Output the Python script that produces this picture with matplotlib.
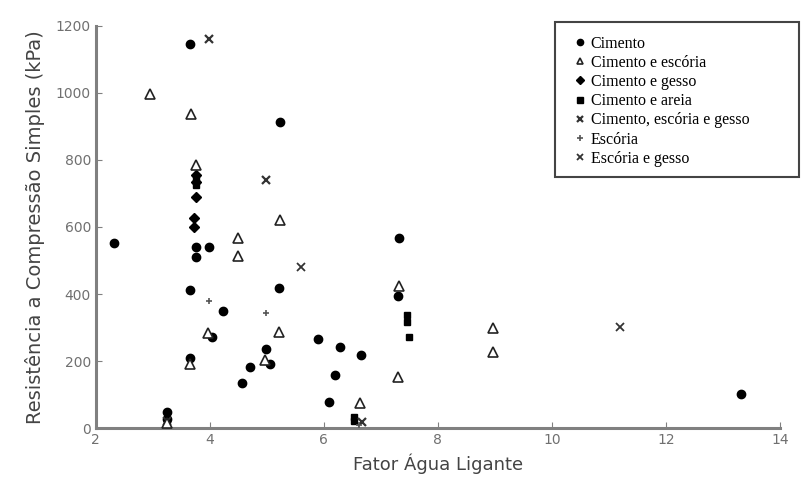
import numpy as np
import matplotlib.pyplot as plt
from matplotlib.patches import Rectangle

# dados (fator agua/ligante, resistencia kPa)
cim_x = [2.32, 3.65, 5.23, 3.75, 3.75, 3.98, 3.65, 4.23, 5.21, 4.04, 3.65, 4.98,
         5.05, 4.70, 4.56, 5.90, 6.28, 6.65, 6.20, 6.09, 3.25, 3.25, 7.32, 7.30, 13.32]
cim_y = [552, 1146, 913, 540, 510, 540, 412, 349, 418, 272, 209, 236,
         191, 182, 134, 265, 243, 218, 158, 78, 48, 27, 567, 395, 101]

esc_x = [2.95, 3.67, 3.75, 5.23, 4.50, 4.50, 3.96, 5.21, 3.66, 4.97, 6.63, 7.31,
         7.30, 8.97, 8.97, 3.25]
esc_y = [997, 937, 785, 621, 567, 513, 283, 287, 191, 203, 74, 424,
         153, 299, 227, 15]

gesso_x = [3.75, 3.75, 3.75, 3.72, 3.72]
gesso_y = [755, 734, 690, 627, 600]

areia_x = [3.75, 3.75, 7.46, 7.46, 7.49, 6.52, 6.52, 3.25]
areia_y = [745, 725, 337, 317, 272, 33, 21, 25]

ceg_x = [3.98, 4.98, 6.67]
ceg_y = [1161, 740, 18]

escoria_x = [3.98, 4.98, 6.62]
escoria_y = [379, 343, 8]

eg_x = [5.60, 11.20, 3.25]
eg_y = [481, 302, 20]

fig = plt.figure(figsize=(8.05, 4.86), dpi=100)
ax = fig.add_axes([0.119, 0.119, 0.850, 0.828])

ax.plot(cim_x, cim_y, 'o', color='black', ms=6, label='Cimento', zorder=3)
ax.plot(esc_x, esc_y, '^', mfc='white', mec='#222222', mew=1.2, ms=6.5,
        label='Cimento e escória', zorder=4)
ax.plot(gesso_x, gesso_y, 'D', color='black', ms=5, label='Cimento e gesso', zorder=3)
ax.plot(areia_x, areia_y, 's', color='black', ms=5, label='Cimento e areia', zorder=3)
ax.plot(ceg_x, ceg_y, 'x', color='#333333', mew=1.6, ms=6,
        label='Cimento, escória e gesso', zorder=3)
ax.plot(escoria_x, escoria_y, '+', color='#555555', mew=1.2, ms=5,
        label='Escória', zorder=3)
ax.plot(eg_x, eg_y, 'x', color='#333333', mew=1.3, ms=6,
        label='Escória e gesso', zorder=3)

ax.set_xlim(2, 14)
ax.set_ylim(0, 1200)
ax.set_xticks(np.arange(2, 15, 2))
ax.set_yticks(np.arange(0, 1201, 200))
for s in ['top', 'right']:
    ax.spines[s].set_visible(False)
for s in ['left', 'bottom']:
    ax.spines[s].set_color('#808080')
    ax.spines[s].set_linewidth(2.2)
ax.tick_params(direction='in', length=4, colors='#808080', labelcolor='#707070',
               labelsize=10)

ax.set_xlabel('Fator Água Ligante', fontsize=13, color='#444444', labelpad=5)
ax.set_ylabel('Resistência a Compressão Simples (kPa)', fontsize=14,
              color='#444444', labelpad=8)

# caixa da legenda
fig.patches.append(Rectangle((0.690, 0.636), 0.303, 0.318, transform=fig.transFigure,
                             fill=False, edgecolor='#444444', lw=1.5, zorder=5))
fig.legend(loc='upper left', bbox_to_anchor=(0.706, 0.943), frameon=False,
           prop={'family': 'Liberation Serif', 'size': 11.5}, markerscale=0.75,
           handlelength=0.5, handletextpad=0.4, labelspacing=0.2, borderpad=0)

fig.savefig('out.png', dpi=100)
